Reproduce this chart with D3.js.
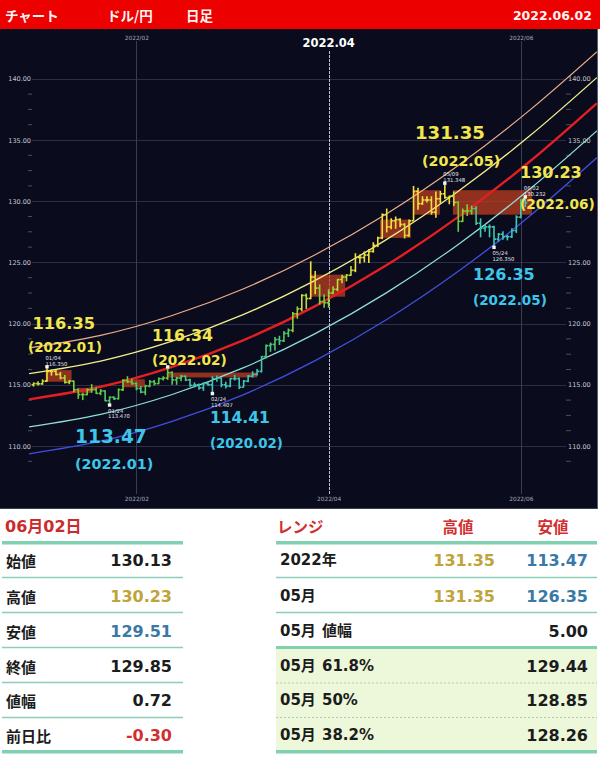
<!DOCTYPE html>
<html><head><meta charset="utf-8">
<script src="https://cdn.jsdelivr.net/npm/d3@7/dist/d3.min.js"></script>
<style>body{margin:0;background:#fff}svg{display:block}</style>
</head><body><svg id="c" width="600" height="761"></svg>
<script>
// ---------------- DATA ----------------
const dates = ["2021-12-30","2021-12-31",
"2022-01-03","2022-01-04","2022-01-05","2022-01-06","2022-01-07","2022-01-10","2022-01-11","2022-01-12","2022-01-13","2022-01-14","2022-01-17","2022-01-18","2022-01-19","2022-01-20","2022-01-21","2022-01-24","2022-01-25","2022-01-26","2022-01-27","2022-01-28","2022-01-31",
"2022-02-01","2022-02-02","2022-02-03","2022-02-04","2022-02-07","2022-02-08","2022-02-09","2022-02-10","2022-02-11","2022-02-14","2022-02-15","2022-02-16","2022-02-17","2022-02-18","2022-02-21","2022-02-22","2022-02-23","2022-02-24","2022-02-25","2022-02-28",
"2022-03-01","2022-03-02","2022-03-03","2022-03-04","2022-03-07","2022-03-08","2022-03-09","2022-03-10","2022-03-11","2022-03-14","2022-03-15","2022-03-16","2022-03-17","2022-03-18","2022-03-21","2022-03-22","2022-03-23","2022-03-24","2022-03-25","2022-03-28","2022-03-29","2022-03-30","2022-03-31",
"2022-04-01","2022-04-04","2022-04-05","2022-04-06","2022-04-07","2022-04-08","2022-04-11","2022-04-12","2022-04-13","2022-04-14","2022-04-15","2022-04-18","2022-04-19","2022-04-20","2022-04-21","2022-04-22","2022-04-25","2022-04-26","2022-04-27","2022-04-28","2022-04-29",
"2022-05-02","2022-05-03","2022-05-04","2022-05-05","2022-05-06","2022-05-09","2022-05-10","2022-05-11","2022-05-12","2022-05-13","2022-05-16","2022-05-17","2022-05-18","2022-05-19","2022-05-20","2022-05-23","2022-05-24","2022-05-25","2022-05-26","2022-05-27","2022-05-30","2022-05-31",
"2022-06-01","2022-06-02"];
const open = [115.00,115.10,
115.08,115.30,116.10,116.10,115.85,115.56,115.20,115.30,114.60,114.20,114.20,114.60,114.60,114.30,114.50,113.70,113.98,113.87,114.60,115.35,115.25,
115.10,114.70,114.40,114.90,115.25,115.10,115.50,115.55,116.00,115.40,115.55,115.70,115.40,114.95,115.00,114.75,115.10,115.00,115.50,115.55,
115.00,114.90,115.50,115.50,114.80,115.30,115.70,115.85,116.10,117.30,118.20,118.30,118.70,118.60,119.20,119.45,120.80,121.20,122.30,122.05,123.80,122.90,121.80,
121.70,122.50,122.80,123.60,123.80,123.95,124.35,125.40,125.40,125.60,125.90,126.40,127.00,128.90,127.90,128.40,128.50,128.10,127.20,128.40,130.80,
129.80,130.10,130.10,129.10,130.20,130.60,130.30,130.40,129.90,128.35,129.20,129.20,129.40,128.20,127.80,127.90,127.90,126.90,127.30,127.10,127.10,127.60,
128.70,130.13];
const high = [115.20,115.30,
115.45,116.35,116.25,116.20,116.05,115.80,115.40,115.35,114.70,114.35,114.70,115.05,114.80,114.65,114.55,114.05,114.05,114.70,115.45,115.70,115.50,
115.20,114.90,115.00,115.40,115.40,115.60,115.70,116.34,116.10,115.65,115.80,115.75,115.50,115.20,115.10,115.20,115.25,115.70,115.75,115.60,
115.25,115.55,115.80,115.60,115.40,115.80,116.10,116.30,117.35,118.30,118.45,118.90,119.00,119.40,119.60,120.95,121.40,122.40,122.45,125.09,124.30,123.20,122.40,
122.80,123.05,123.65,124.00,124.05,124.70,125.75,125.65,125.90,126.10,126.65,127.10,129.00,129.40,128.60,128.75,128.60,128.20,128.50,131.25,131.10,
130.40,130.40,130.40,130.80,130.85,131.35,130.45,130.80,130.00,129.40,129.75,129.65,129.60,128.60,128.10,128.10,128.00,127.40,127.55,127.25,127.80,128.85,
130.15,130.23];
const low = [114.85,114.95,
115.00,115.25,115.75,115.75,115.45,115.10,115.05,114.40,113.85,113.75,114.15,114.35,114.25,114.15,113.65,113.47,113.75,113.80,114.50,115.15,115.00,
114.55,114.30,114.15,114.80,114.95,115.05,115.35,115.40,115.00,115.00,115.30,115.30,114.85,114.80,114.60,114.50,114.95,114.41,115.25,114.80,
114.70,114.80,115.35,114.65,114.80,115.20,115.60,115.75,116.00,117.15,117.70,117.80,118.25,118.50,118.90,119.30,120.40,121.00,121.20,122.00,122.40,121.55,121.30,
121.30,122.40,122.65,123.30,123.45,123.90,124.20,124.90,125.00,124.95,125.80,126.25,126.90,127.45,127.70,127.75,127.90,126.95,127.10,128.40,129.30,
129.70,129.90,128.90,128.65,129.80,130.20,129.75,129.60,127.50,128.30,128.80,128.90,128.05,127.05,127.50,127.05,126.35,126.70,126.85,126.80,127.00,127.40,
128.60,129.51];
const close = [115.10,115.08,
115.30,116.10,116.10,115.85,115.56,115.20,115.30,114.60,114.20,114.20,114.60,114.60,114.30,114.50,113.70,113.98,113.87,114.60,115.35,115.25,115.10,
114.70,114.40,114.90,115.25,115.10,115.50,115.55,116.00,115.40,115.55,115.70,115.40,114.95,115.00,114.75,115.10,115.00,115.50,115.55,115.00,
114.90,115.50,115.50,114.80,115.30,115.70,115.85,116.10,117.30,118.20,118.30,118.70,118.60,119.20,119.45,120.80,121.20,122.30,122.05,123.80,122.90,121.80,121.70,
122.50,122.80,123.60,123.80,123.95,124.35,125.40,125.40,125.60,125.90,126.40,127.00,128.90,127.90,128.40,128.50,128.10,127.20,128.40,130.80,129.80,
130.10,130.10,129.10,130.20,130.60,130.30,130.40,129.90,128.35,129.20,129.20,129.40,128.20,127.80,127.90,127.90,126.90,127.30,127.10,127.10,127.60,128.70,
130.10,129.85];

// channel curves, read at trading-day index positions
const curveIdx    = [-1, 15, 31, 47, 63, 79, 95, 111, 126];
const curveOrange = [118.01,119.04,120.66,122.85,125.63,128.98,132.92,137.44,142.20];
const curveYellow = [115.91,116.94,118.56,120.75,123.53,126.88,130.82,135.34,140.10];
const curveRed    = [113.81,114.84,116.46,118.65,121.43,124.78,128.72,133.24,138.00];
const curveCyan   = [111.56,112.59,114.21,116.40,119.18,122.53,126.47,130.99,135.75];
const curveBlue   = [109.36,110.39,112.01,114.20,116.98,120.33,124.27,128.79,133.55];

// shaded range boxes (trading-day index from/to, price top/bottom)
const boxFrom   = [2.7, 9.7, 19.8, 29.8, 61.8, 77.5, 84.9, 93.8];
const boxTo     = [8.5, 13.1, 24.9, 50.0, 69.7, 84.4, 90.9, 111.5];
const boxTop    = [116.20,114.75,115.45,116.00,124.00,128.50,130.90,130.90];
const boxBottom = [115.25,114.35,114.80,115.60,122.20,127.00,128.90,128.90];

// marked highs / lows
const markDate = ["2022-01-04","2022-01-24","2022-02-10","2022-02-24","2022-05-09","2022-05-24","2022-06-02"];
const markVal  = [116.350,113.470,116.34,114.407,131.348,126.350,130.232];
const markKind = ["high","low","high","low","high","low","high"];
const markShowText = [true,true,false,true,true,true,true];

// big annotations
const annVal  = [116.35,116.34,113.47,114.41,131.35,130.23,126.35];
const annSub  = ["(2022.01)","(2022.02)","(2022.01)","(2020.02)","(2022.05)","(2022.06)","(2022.05)"];
const annKind = ["high","high","low","low","high","high","low"];

const yTicksLeft  = [110,115,120,125,130,135,140];
const yTicksRight = [110,115,120,125,135,140];
const yGrid = [110,115,120,125,130,135,140];
const monthDates  = ["2022-02-01","2022-04-01","2022-06-01"];
const monthLabels = ["2022/02","2022/04","2022/06"];

// tables
const dayTitle  = "06月02日";
const dayLabels = ["始値","高値","安値","終値","値幅","前日比"];
const dayValues = [130.13,130.23,129.51,129.85,0.72,-0.30];
const rangeHeader = ["レンジ","高値","安値"];
const rangeLabels = ["2022年","05月","05月 値幅","05月 61.8%","05月 50%","05月 38.2%"];
const rangeHigh = [131.35,131.35,null,null,null,null];
const rangeLow  = [113.47,126.35,5.00,129.44,128.85,128.26];

// ---------------- LAYOUT ----------------
const svg = d3.select("#c");
const PT = 29, PB = 509, PR = 597;
const x = d3.scaleLinear().domain([0, 110]).range([33.59, 525.29]);
const y = d3.scaleLinear().domain([110, 140]).range([446, 78.8]);
const idxOf = d => dates.indexOf(d);

// header bar
svg.append("rect").attr("x",0).attr("y",0).attr("width",600).attr("height",PT).attr("fill","#ec0000");
const hdr = svg.append("g").attr("fill","#fff4f4").attr("font-weight","bold")
  .attr("font-family","'Noto Sans CJK JP', sans-serif").attr("font-size",13.5);
hdr.append("text").attr("x",5).attr("y",15).attr("dominant-baseline","central").text("チャート");
hdr.append("text").attr("x",107).attr("y",15).attr("dominant-baseline","central").text("ドル/円");
hdr.append("text").attr("x",186).attr("y",15).attr("dominant-baseline","central").text("日足");
hdr.append("text").attr("x",592).attr("y",15).attr("dominant-baseline","central").attr("text-anchor","end")
  .attr("font-family","'DejaVu Sans', sans-serif").attr("font-size",12.5).text("2022.06.02");

// plot background
svg.append("rect").attr("x",0).attr("y",PT).attr("width",PR).attr("height",PB-PT).attr("fill","#0a0c1d");
svg.append("line").attr("x1",PR+0.5).attr("x2",PR+0.5).attr("y1",PT).attr("y2",PB).attr("stroke","#5a5e72");
svg.append("line").attr("x1",0).attr("x2",PR).attr("y1",PB-0.5).attr("y2",PB-0.5).attr("stroke","#3a3e52");

svg.append("defs").append("clipPath").attr("id","clip")
  .append("rect").attr("x",29).attr("y",PT).attr("width",PR-29).attr("height",PB-PT);

// horizontal grid
svg.append("g").selectAll("line").data(yGrid).join("line")
  .attr("x1",32).attr("x2",566).attr("y1",d=>Math.round(y(d))+0.5).attr("y2",d=>Math.round(y(d))+0.5)
  .attr("stroke","#2b2e45").attr("stroke-width",1);

// minor ticks
const minor = d3.range(108.75, 141, 1.25).filter(v => v % 5 !== 0);
svg.append("g").selectAll("line").data(minor).join("line")
  .attr("x1",28).attr("x2",32).attr("y1",d=>y(d)).attr("y2",d=>y(d)).attr("stroke","#4a4d62");
svg.append("g").selectAll("line").data(minor).join("line")
  .attr("x1",566).attr("x2",571).attr("y1",d=>y(d)).attr("y2",d=>y(d)).attr("stroke","#4a4d62");

// y axes (both sides)
function styleAxis(g){
  g.select(".domain").remove();
  g.selectAll("text").attr("fill","#c4c6d2").attr("font-size",6.5).attr("font-family","'DejaVu Sans', sans-serif");
}
svg.append("g").attr("transform","translate(32,0)")
  .call(d3.axisLeft(y).tickValues(yTicksLeft).tickSize(0).tickPadding(1).tickFormat(d3.format(".2f"))).call(styleAxis);
svg.append("g").attr("transform","translate(566,0)")
  .call(d3.axisRight(y).tickValues(yTicksRight).tickSize(0).tickPadding(2).tickFormat(d3.format(".2f"))).call(styleAxis);

// vertical month grid
const monthIdx = monthDates.map(idxOf);
svg.append("g").selectAll("line").data(monthIdx).join("line")
  .attr("x1",d=>Math.round(x(d))+0.5).attr("x2",d=>Math.round(x(d))+0.5)
  .attr("y1",(d,i)=> i===1 ? 51 : 41).attr("y2",494)
  .attr("stroke",(d,i)=> i===1 ? "#b9c2dc" : "#383c56")
  .attr("stroke-dasharray",(d,i)=> i===1 ? "3,1" : null)
  .attr("stroke-width",1);
const mFmt = d => monthLabels[monthIdx.indexOf(d)];
// top labels (the 04 one sits under the big label, so only 02 and 06 are shown)
const topIdx = [monthIdx[0], monthIdx[2]];
svg.append("g").attr("transform","translate(0,40)")
  .call(d3.axisTop(x).tickValues(topIdx).tickSize(0).tickPadding(0).tickFormat(mFmt)).call(styleAxis)
  .selectAll("text").attr("font-size",5.8).attr("fill","#a8aabb");
svg.append("g").attr("transform","translate(0,497)")
  .call(d3.axisBottom(x).tickValues(monthIdx).tickSize(0).tickPadding(0).tickFormat(mFmt)).call(styleAxis)
  .selectAll("text").attr("font-size",5.8).attr("fill","#a8aabb");
svg.append("text").attr("x",x(monthIdx[1])).attr("y",43).attr("text-anchor","middle").attr("dominant-baseline","central")
  .attr("fill","#ffffff").attr("font-weight","bold").attr("font-size",11.5)
  .attr("font-family","'DejaVu Sans', sans-serif").text("2022.04");

const plot = svg.append("g").attr("clip-path","url(#clip)");

// boxes
plot.append("g").selectAll("rect").data(boxFrom.map((f,i)=>({f,t:boxTo[i],top:boxTop[i],bot:boxBottom[i]}))).join("rect")
  .attr("x",d=>x(d.f)).attr("width",d=>x(d.t)-x(d.f))
  .attr("y",d=>y(d.top)).attr("height",d=>y(d.bot)-y(d.top))
  .attr("fill","#c4401f").attr("opacity",0.72);

// curves
const line = d3.line().x(d=>x(d[0])).y(d=>y(d[1])).curve(d3.curveNatural);
const curves = [
  {v:curveOrange, c:"#eeae8a", w:1.2},
  {v:curveYellow, c:"#f2ee8c", w:1.3},
  {v:curveRed,    c:"#e41e22", w:2.4},
  {v:curveCyan,   c:"#8fe0d8", w:1.2},
  {v:curveBlue,   c:"#3f4fe0", w:1.3}
];
plot.append("g").selectAll("path").data(curves).join("path")
  .attr("d",d=>line(curveIdx.map((k,i)=>[k,d.v[i]])))
  .attr("fill","none").attr("stroke",d=>d.c).attr("stroke-width",d=>d.w);

// bars (OHLC)
function interp(arr, k){
  for (let i=0;i<curveIdx.length-1;i++){
    if (k>=curveIdx[i] && k<=curveIdx[i+1]){
      const t=(k-curveIdx[i])/(curveIdx[i+1]-curveIdx[i]); return arr[i]+(arr[i+1]-arr[i])*t;
    }
  }
  return arr[arr.length-1];
}
const barColor = d3.scaleLinear().domain([-2.2,-0.5,1.0,2.0])
  .range(["#3ec8b4","#5ccc3c","#b8dc38","#f2e040"]).clamp(true);
const bars = dates.map((d,i)=>({i,o:open[i],h:high[i],l:low[i],c:close[i]}));
const bg = plot.append("g").selectAll("g").data(bars).join("g")
  .attr("stroke",d=>barColor(d.c - interp(curveRed,d.i))).attr("stroke-width",1.6);
bg.append("line").attr("x1",d=>x(d.i)).attr("x2",d=>x(d.i)).attr("y1",d=>y(d.h)).attr("y2",d=>y(d.l));
bg.append("line").attr("x1",d=>x(d.i)-2).attr("x2",d=>x(d.i)).attr("y1",d=>y(d.o)).attr("y2",d=>y(d.o));
bg.append("line").attr("x1",d=>x(d.i)).attr("x2",d=>x(d.i)+2).attr("y1",d=>y(d.c)).attr("y2",d=>y(d.c));

// markers
const marks = markDate.map((d,i)=>({i:idxOf(d), v:markVal[i], k:markKind[i], show:markShowText[i], d}));
const mg = svg.append("g");
mg.selectAll("rect").data(marks).join("rect")
  .attr("x",d=>x(d.i)-1.7).attr("y",d=>y(d.v)+(d.k==="high"?-1.5:1.5)-1.7)
  .attr("width",3.4).attr("height",3.4).attr("fill","#f4f4f4");
const mt = mg.selectAll("g").data(marks.filter(m=>m.show)).join("g")
  .attr("fill","#e6e6ee").attr("font-size",5.3).attr("font-family","'DejaVu Sans', sans-serif");
mt.append("text").attr("x",d=>x(d.i)-1.5).attr("y",d=>y(d.v)+(d.k==="high"?-10.5:7))
  .attr("dominant-baseline","central").text(d=>d.d.slice(5).replace("-","/"));
mt.append("text").attr("x",d=>x(d.i)-1.5).attr("y",d=>y(d.v)+(d.k==="high"?-4.6:12.8))
  .attr("dominant-baseline","central").text(d=>d.v.toFixed(3));

// annotations (layout: x main, y main, size main, x sub, y sub, size sub)
const annLayout = [
  [32.5,323,16.2, 28,346.5,13.5],
  [152,335,15.8,152,360,13.7],
  [75,436,18.6, 75,464,14.3],
  [210,417.5,15.5,210,443,13.3],
  [415,132,18.1,422,161,14.3],
  [520,172,16.0,520,203.5,13.7],
  [473,274,16.0,473,300,13.5]
];
const ag = svg.append("g").attr("font-family","'DejaVu Sans', sans-serif").attr("font-weight","bold");
annVal.forEach((v,i)=>{
  const L = annLayout[i], col = annKind[i]==="high" ? "#f2e64c" : "#3ec6ea";
  ag.append("text").attr("x",L[0]).attr("y",L[1]).attr("font-size",L[2]).attr("fill",col)
    .attr("dominant-baseline","central").text(v.toFixed(2));
  ag.append("text").attr("x",L[3]).attr("y",L[4]).attr("font-size",L[5]).attr("fill",col)
    .attr("dominant-baseline","central").text(annSub[i]);
});

// ---------------- TABLES ----------------
const FONT = "'DejaVu Sans','Noto Sans CJK JP',sans-serif";
const rowY = [560,596,631,666,700,735];
const GREEN = "#80d0b2", THIN = "#8ccfb9";
const GOLD = "#bea43a", BLUE = "#3a78a6", RED = "#d12f2f";

const t = svg.append("g").attr("font-family",FONT).attr("font-weight","bold");
// left table
t.append("text").attr("x",5).attr("y",526).attr("dominant-baseline","central").attr("font-size",16)
  .attr("fill","#cc2b2b").text(dayTitle);
t.append("rect").attr("x",2).attr("y",541).attr("width",181).attr("height",3.5).attr("fill",GREEN);
[577.5,612.5,647.5,682.5,717.5].forEach(yy=>t.append("line").attr("x1",2).attr("x2",183).attr("y1",yy).attr("y2",yy)
  .attr("stroke",THIN).attr("stroke-width",1.5));
t.append("rect").attr("x",2).attr("y",750).attr("width",181).attr("height",3.5).attr("fill",GREEN);
const dayColor = [null,GOLD,BLUE,null,null,RED];
dayLabels.forEach((lab,i)=>{
  t.append("text").attr("x",6).attr("y",rowY[i]).attr("dominant-baseline","central").attr("font-size",15)
    .attr("font-family","'Noto Sans CJK JP',sans-serif").attr("fill","#1c1c1c").text(lab);
  t.append("text").attr("x",172).attr("y",rowY[i]).attr("dominant-baseline","central").attr("text-anchor","end")
    .attr("font-size",16).attr("fill",dayColor[i]||"#1c1c1c").text(dayValues[i].toFixed(2));
});

// right table
t.append("rect").attr("x",276).attr("y",648).attr("width",321).attr("height",103).attr("fill","#edf8db");
t.append("text").attr("x",277).attr("y",526).attr("dominant-baseline","central").attr("font-size",15.5)
  .attr("font-family","'Noto Sans CJK JP',sans-serif").attr("fill",RED).text(rangeHeader[0]);
t.append("text").attr("x",458).attr("y",526).attr("dominant-baseline","central").attr("text-anchor","middle").attr("font-size",15.5)
  .attr("font-family","'Noto Sans CJK JP',sans-serif").attr("fill",RED).text(rangeHeader[1]);
t.append("text").attr("x",553).attr("y",526).attr("dominant-baseline","central").attr("text-anchor","middle").attr("font-size",15.5)
  .attr("font-family","'Noto Sans CJK JP',sans-serif").attr("fill",RED).text(rangeHeader[2]);
t.append("rect").attr("x",276).attr("y",541).attr("width",321).attr("height",3.5).attr("fill",GREEN);
[577.5,612.5].forEach(yy=>t.append("line").attr("x1",276).attr("x2",597).attr("y1",yy).attr("y2",yy)
  .attr("stroke",THIN).attr("stroke-width",1.5));
t.append("rect").attr("x",276).attr("y",646).attr("width",321).attr("height",3).attr("fill",GREEN);
[683,717.5].forEach(yy=>t.append("line").attr("x1",276).attr("x2",597).attr("y1",yy).attr("y2",yy)
  .attr("stroke","#b5c6ae").attr("stroke-width",1).attr("stroke-dasharray","2,2"));
t.append("rect").attr("x",276).attr("y",750).attr("width",321).attr("height",3.5).attr("fill",GREEN);
rangeLabels.forEach((lab,i)=>{
  const parts = lab.split(" ");
  t.append("text").attr("x",280).attr("y",rowY[i]).attr("dominant-baseline","central").attr("font-size",15)
    .attr("fill","#1c1c1c").text(parts[0]);
  if (parts[1]) t.append("text").attr("x",322).attr("y",rowY[i]).attr("dominant-baseline","central").attr("font-size",15)
    .attr("fill","#1c1c1c").text(parts[1]);
  if (rangeHigh[i]!=null) t.append("text").attr("x",495).attr("y",rowY[i]).attr("dominant-baseline","central")
    .attr("text-anchor","end").attr("font-size",16).attr("fill",GOLD).text(rangeHigh[i].toFixed(2));
  t.append("text").attr("x",588).attr("y",rowY[i]).attr("dominant-baseline","central").attr("text-anchor","end")
    .attr("font-size",16).attr("fill", i<2 ? BLUE : "#1c1c1c").text(rangeLow[i].toFixed(2));
});
</script>
</body></html>
